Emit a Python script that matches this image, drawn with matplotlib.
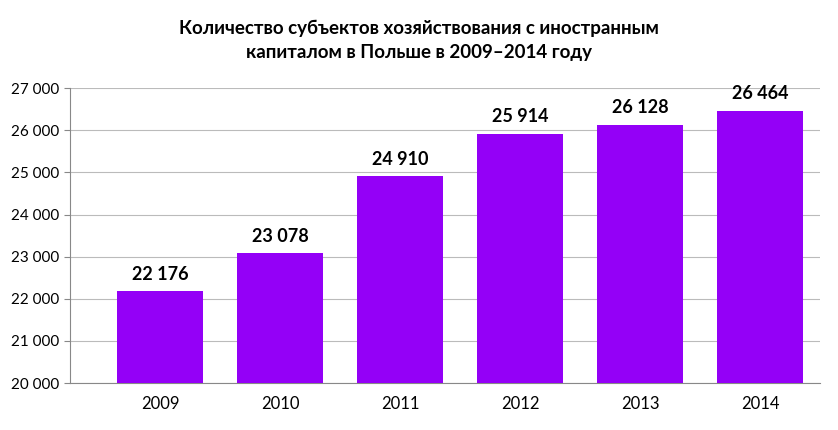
import matplotlib
matplotlib.use("Agg")
import matplotlib.pyplot as plt

years = ["2009", "2010", "2011", "2012", "2013", "2014"]
values = [22176, 23078, 24910, 25914, 26128, 26464]
yticks = [20000, 21000, 22000, 23000, 24000, 25000, 26000, 27000]

plt.rcParams['font.family'] = ['Lato', 'DejaVu Sans']

def fmt(v):
    return f"{v:,}".replace(",", " ")

fig = plt.figure(figsize=(8.38, 4.3), dpi=100)
ax = fig.add_axes([70/838, 0.109, 750/838, 0.686])
x = range(len(years))
ax.bar(x, values, width=0.72, color='#9400F7', zorder=3)
for i, v in zip(x, values):
    ax.text(i, v + 200, fmt(v), ha='center', va='bottom', fontsize=13, fontweight='bold')
ax.set_ylim(20000, 27000)
ax.set_xlim(-0.75, len(years) - 0.5)
ax.set_yticks(yticks)
ax.set_yticklabels([fmt(t) for t in yticks], fontsize=11)
ax.set_xticks(list(x))
ax.set_xticklabels(years, fontsize=12)
ax.tick_params(axis='x', length=0, pad=9)
ax.tick_params(axis='y', length=4, color='#888888')
ax.grid(axis='y', color='#bbbbbb', linewidth=0.8, zorder=0)
for s in ['top', 'right']:
    ax.spines[s].set_visible(False)
ax.spines['left'].set_color('#888888')
ax.spines['bottom'].set_color('#888888')
fig.text(0.5, 0.905, "Количество субъектов хозяйствования с иностранным\nкапиталом в Польше в 2009–2014 году",
         ha='center', va='center', fontsize=13.5, fontweight='bold', linespacing=1.5)
fig.savefig("out.png", dpi=100)
